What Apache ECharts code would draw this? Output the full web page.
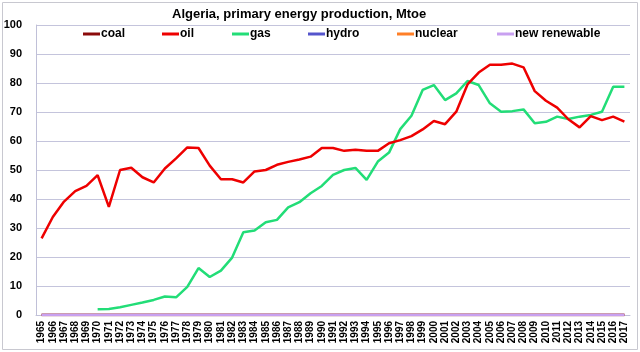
<!DOCTYPE html>
<html>
<head>
<meta charset="utf-8">
<script src="https://cdn.jsdelivr.net/npm/echarts@6/dist/echarts.min.js"></script>
<style>
  html, body { margin: 0; padding: 0; background: #fff; }
  #chart { width: 640px; height: 352px; }
</style>
</head>
<body>
<div id="chart"></div>
<script>
  // years 1965..2017
  var years = []
  for (var y = 1965; y <= 2017; y++) years.push(String(y))

  var oil = [26.4, 33.8, 39.1, 42.7, 44.5, 48.2, 37.3, 50.0, 50.8, 47.5,
    45.7, 50.5, 54.0, 57.8, 57.6, 51.5, 46.8, 46.8, 45.7, 49.5,
    50.0, 51.8, 52.8, 53.6, 54.6, 57.6, 57.6, 56.6, 57.0, 56.6,
    56.6, 59.2, 60.3, 61.7, 64.0, 66.9, 65.8, 70.1, 79.5, 83.6,
    86.3, 86.3, 86.7, 85.4, 77.2, 73.9, 71.5, 67.5, 64.7, 68.6,
    67.2, 68.4, 66.7]

  var gas = [null, null, null, null, null, 2.0, 2.1, 2.7, 3.5, 4.3,
    5.2, 6.4, 6.1, 9.7, 16.2, 13.1, 15.3, 19.8, 28.5, 29.1,
    32.0, 32.8, 37.1, 38.9, 42.0, 44.5, 48.3, 50.0, 50.7, 46.6,
    52.9, 56.0, 64.1, 68.7, 77.6, 79.3, 74.1, 76.4, 80.7, 79.3,
    73.0, 70.1, 70.3, 70.9, 66.1, 66.6, 68.4, 67.6, 68.4, 69.0,
    70.1, 78.7, 78.7]

  var zeros = years.map(function() { return 0 })
  var coal = zeros.slice()
  var hydro = zeros.slice()
  var nuclear = zeros.slice()
  var renewable = zeros.slice()

  var legendNames = ['coal', 'oil', 'gas', 'hydro', 'nuclear', 'new renewable']
  var legendLeft = [83, 162, 232, 308, 397, 497]

  var chart = echarts.init(document.getElementById('chart'))

  function line(name, data, color) {
    return {
      name: name,
      type: 'line',
      data: data,
      symbol: 'none',
      animation: false,
      lineStyle: { color: color, width: 2.5 },
      itemStyle: { color: color }
    }
  }

  chart.setOption({
    textStyle: { fontFamily: 'Liberation Sans, Arial, sans-serif' },
    graphic: [{
      type: 'rect',
      shape: { x: 2.5, y: 2.5, width: 635, height: 347 },
      style: { fill: null, stroke: '#c8c8d0', lineWidth: 1 },
      silent: true
    }],
    title: {
      text: 'Algeria, primary energy production, Mtoe',
      left: 167,
      top: 3,
      textStyle: { fontSize: 13, fontWeight: 'bold', color: '#000' }
    },
    // one legend per item so each sits where the reference has it
    legend: legendNames.map(function(n, i) {
      return {
        data: [n],
        top: 28,
        left: legendLeft[i],
        padding: 0,
        itemWidth: 17,
        itemHeight: 3,
        icon: 'rect',
        selectedMode: false,
        textStyle: { fontSize: 12, fontWeight: 'bold', color: '#000', padding: [0, 0, 0, -4] }
      }
    }),
    grid: { left: 36, right: 10, top: 25, bottom: 37 },
    xAxis: {
      type: 'category',
      data: years,
      boundaryGap: true,
      axisLine: { lineStyle: { color: '#c0c0d8' } },
      axisTick: { show: false },
      axisLabel: {
        rotate: 90,
        interval: 0,
        fontSize: 10,
        fontWeight: 'bold',
        color: '#000',
        margin: 6
      }
    },
    yAxis: {
      type: 'value',
      min: 0,
      max: 100,
      interval: 10,
      axisLine: { show: true, lineStyle: { color: '#c0c0d8' } },
      axisTick: { show: false },
      axisLabel: { fontSize: 11, fontWeight: 'bold', color: '#000', margin: 14 },
      splitLine: { lineStyle: { color: '#c4c4dc', width: 1 } }
    },
    series: [
      line('gas', gas, '#22dd77'),
      line('oil', oil, '#ee0000'),
      line('coal', coal, '#8b0a0a'),
      line('hydro', hydro, '#5555cc'),
      line('nuclear', nuclear, '#ff7f27'),
      line('new renewable', renewable, '#c8a0f0')
    ]
  })
</script>
</body>
</html>
